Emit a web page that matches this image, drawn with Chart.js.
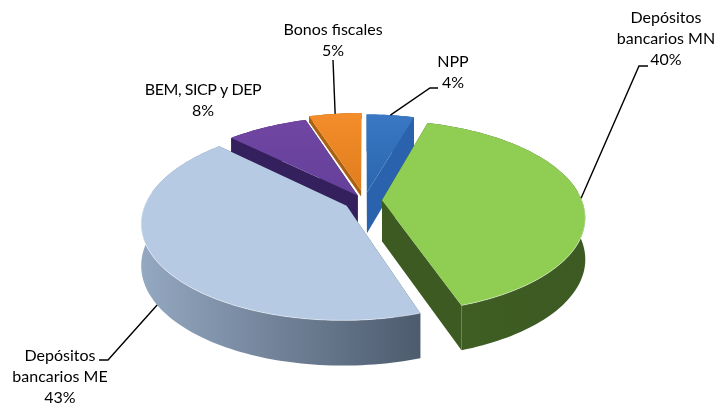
<!DOCTYPE html>
<html><head><meta charset="utf-8">
<style>html,body{margin:0;padding:0;background:#fff}canvas{display:block}</style>
<script src="https://cdn.jsdelivr.net/npm/chart.js@4"></script>
</head><body><canvas id="c" width="719" height="406"></canvas>
<script>
const categories = ["NPP","Depósitos bancarios MN","Depósitos bancarios ME","BEM, SICP y DEP","Bonos fiscales"];
const values = [4.49,40.31,42.5,7.7,5.0];
const shownPercent = ["4%","40%","43%","8%","5%"];
const topColors = ["#3a78c4","#8fce52","#b6cae3","#7146a3","#f48d2c"];
const topColors2 = ["#2b66ae","#8fce52","#b6cae3","#64409a","#e07d1c"];
const wallColors = ["#2a62ad","#3f5f24","#94a8c1","#33205c","#a9600f"];
const wallColors2 = ["#2a62ad","#3c5a22","#4d5b6e","#33205c","#a9600f"];
const explode = [17.5,17.5,21,13,22];
const drawOrder = [4,3,0,2,1];
// How far the two cut faces of each slice drop: null means the full wall depth
const cutFaceDepth = [null,null,null,null,6];

// Perspective view of the pie plane
const VIEW = {cx:364.5, cy:200.5, squash:0.4675, persp:0.167, depth:41, depthVar:4};
const LABELS = [
 {lines:["NPP",shownPercent[0]], x:453, y:62, elbow:[[430,88],[438,88]], wall:false},
 {lines:["Depósitos","bancarios MN",shownPercent[1]], x:666, y:18, elbow:[[639,66],[648,66]], wall:false},
 {lines:["Depósitos","bancarios ME",shownPercent[2]], x:60, y:356, elbow:[[108,360],[99,360]], wall:true},
 {lines:["BEM, SICP y DEP",shownPercent[3]], x:203, y:90, elbow:null, spacing:'-0.45px'},
 {lines:["Bonos fiscales",shownPercent[4]], x:333, y:30, elbow:[[333,60]], wall:false}
];

function project(e, px, py){
  const u = px - e.x, v = e.y - py, R = e.outerRadius;
  const w = 1 + VIEW.persp * v / R;
  return {x: VIEW.cx + u / w, y: VIEW.cy - VIEW.squash * v / w, v: v / R};
}
function wallH(p){ return VIEW.depth - VIEW.depthVar * p.v; }
function slicePts(e){
  const off = e.options.offset || 0;
  const a0 = e.startAngle, a1 = e.endAngle, mid = (a0 + a1) / 2, R = e.outerRadius;
  const ox = e.x + off * Math.cos(mid), oy = e.y + off * Math.sin(mid);
  const n = Math.max(8, Math.round((a1 - a0) * 40));
  const rim = [];
  for (let i = 0; i <= n; i++) {
    const a = a0 + (a1 - a0) * i / n;
    rim.push(project(e, ox + R * Math.cos(a), oy + R * Math.sin(a)));
  }
  const midRim = project(e, ox + R * Math.cos(mid), oy + R * Math.sin(mid));
  return {apex: project(e, ox, oy), rim, midRim};
}
function poly(ctx, pts, fill){
  ctx.beginPath();
  pts.forEach((p,i)=> i ? ctx.lineTo(p.x,p.y) : ctx.moveTo(p.x,p.y));
  ctx.closePath(); ctx.fillStyle = fill; ctx.fill();
}
const down = p => ({x:p.x, y:p.y + wallH(p)});
const dropBy = (p,d) => d === null ? down(p) : {x:p.x, y:p.y + d};
function hGrad(ctx, pts, c0, c1){
  const xs = pts.map(p=>p.x), g = ctx.createLinearGradient(Math.min(...xs),0,Math.max(...xs),0);
  g.addColorStop(0,c0); g.addColorStop(1,c1); return g;
}
const pie3d = {
  id:'pie3d',
  beforeDatasetDraw(chart){
    const ctx = chart.ctx, arcs = chart.getDatasetMeta(0).data;
    ctx.save();
    drawOrder.forEach(i=>{
      const s = slicePts(arcs[i]), {apex, rim} = s, last = rim.length-1;
      const dark = wallColors[i], dark2 = wallColors2[i], d = cutFaceDepth[i];
      poly(ctx,[apex,rim[0],dropBy(rim[0],d),dropBy(apex,d)],dark2);
      poly(ctx,[apex,rim[last],dropBy(rim[last],d),dropBy(apex,d)],dark2);
      const wall = rim.concat(rim.slice().reverse().map(p=>dropBy(p,d)));
      poly(ctx,wall,hGrad(ctx,rim,dark,dark2));
      const top = [apex].concat(rim);
      const ys = top.map(p=>p.y);
      const g = ctx.createLinearGradient(0,Math.min(...ys),0,Math.max(...ys));
      g.addColorStop(0,topColors[i]); g.addColorStop(1,topColors2[i]);
      poly(ctx,top,g);
      // light bevel along the near rim
      ctx.beginPath(); let pen = false;
      rim.forEach(p=>{ if(p.v<0.1){ pen ? ctx.lineTo(p.x,p.y) : ctx.moveTo(p.x,p.y); pen = true; } else pen = false; });
      ctx.strokeStyle='rgba(255,255,255,0.45)'; ctx.lineWidth=1; ctx.stroke();
    });
    ctx.restore();
    return false;
  },
  afterDatasetsDraw(chart){
    const ctx = chart.ctx, arcs = chart.getDatasetMeta(0).data;
    ctx.save();
    ctx.strokeStyle = '#000'; ctx.lineWidth = 1.4;
    LABELS.forEach((l,i)=>{
      if(l.elbow){
        const m = slicePts(arcs[i]).midRim, st = l.wall ? down(m) : m;
        ctx.beginPath(); ctx.moveTo(st.x,st.y);
        l.elbow.forEach(p=>ctx.lineTo(p[0],p[1])); ctx.stroke();
      }
      ctx.fillStyle='#000'; ctx.font='16px Lato'; ctx.textAlign='center'; ctx.textBaseline='middle';
      l.lines.forEach((t,k)=>{
        ctx.letterSpacing = (k === 0 && l.spacing) ? l.spacing : '0px';
        ctx.fillText(t,l.x,l.y+k*21);
      });
    });
    ctx.restore();
  }
};
new Chart(document.getElementById('c'),{
  type:'pie',
  data:{labels:categories,datasets:[{data:values,backgroundColor:topColors,borderWidth:0,offset:explode}]},
  options:{responsive:false,animation:false,radius:200,rotation:0,
    events:[],
    plugins:{legend:{display:false},tooltip:{enabled:false},title:{display:false}}},
  plugins:[pie3d]
});
</script></body></html>
